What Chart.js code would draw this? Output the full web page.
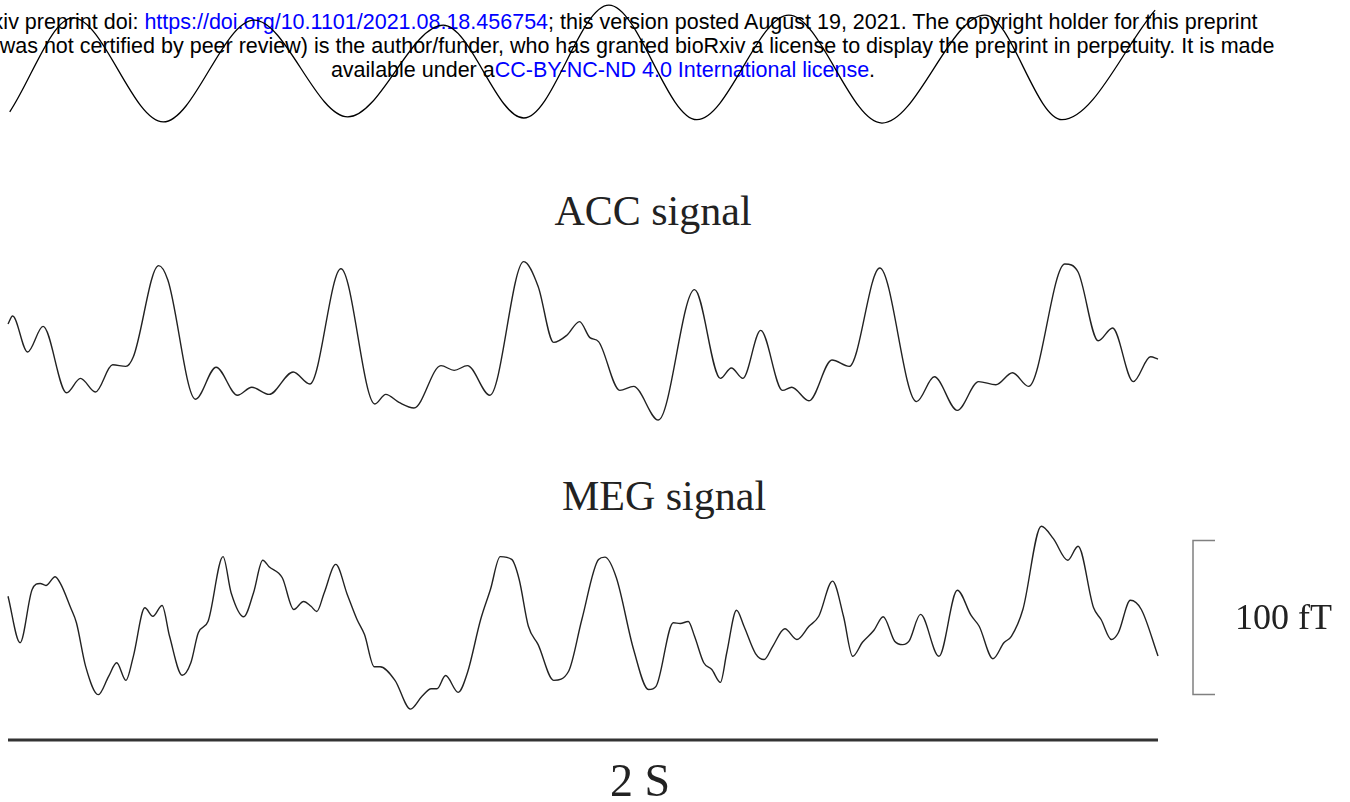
<!DOCTYPE html>
<html lang="en">
  <head>
    <meta charset="UTF-8" />
    <title>ACC / MEG signal</title>
    <script src="https://cdn.jsdelivr.net/npm/chart.js@4"></script>
    <style>
      html, body { margin: 0; padding: 0; background: #fff; }
      body { position: relative; width: 1350px; height: 802px; overflow: hidden; }
      canvas { position: absolute; left: 0; }
      /* preprint header */
      #hdr {
        position: absolute; top: 10px; left: 603px; transform: translateX(-50%);
        font-family: "Liberation Sans", Arial, sans-serif; font-size: 21.5px;
        line-height: 24px; text-align: center; white-space: nowrap; color: #000;
      }
      #hdr a { color: #0000ff; text-decoration: none; }
      .title {
        position: absolute; width: 400px; text-align: center;
        font-family: "Liberation Serif", "Times New Roman", serif; font-size: 42px;
        line-height: 48px; color: #222;
      }
    </style>
  </head>

  <body>
    <div id="hdr">
      bioRxiv preprint doi: <a>https://doi.org/10.1101/2021.08.18.456754</a>; this version posted August 19, 2021. The copyright holder for this preprint<br>
      (which was not certified by peer review) is the author/funder, who has granted bioRxiv a license to display the preprint in perpetuity. It is made<br>
      available under a<a>CC-BY-NC-ND 4.0 International license</a>.
    </div>

    <canvas id="waveChart" width="1350" height="132" style="top:0px"></canvas>

    <div class="title" id="accTitle" style="left:453px; top:187px"></div>
    <canvas id="accChart" width="1350" height="200" style="top:240px"></canvas>

    <div class="title" id="megTitle" style="left:464px; top:472px"></div>
    <canvas id="megChart" width="1350" height="300" style="top:502px"></canvas>
  </body>

  <script>
    // reference wave on top (normalised)
    const waveTime  = [3, 113, 270, 428, 591, 757, 897, 1045, 1198, 1358, 1520, 1699, 1833, 1995];
    const waveValue = [-0.82, 0.86, -1.0, 0.82, -0.91, 0.73, -0.93, 1.09, -0.96, 0.91, -1.02, 0.91, -0.96, 1.0];

    // ACC signal (a.u.)
    const accTime = [0, 8, 34, 61, 102, 126, 152, 182, 205, 218, 262, 278, 326, 362, 399, 424, 454, 496, 525,
      579, 638, 657, 680, 706, 753, 776, 799, 838, 897, 922, 949, 972, 994, 1012, 1027, 1064, 1088, 1131,
      1194, 1239, 1258, 1278, 1309, 1347, 1363, 1393, 1433, 1463, 1516, 1580, 1611, 1651, 1688, 1718,
      1747, 1775, 1838, 1861, 1896, 1921, 1957, 1987, 2000];
    const accValue = [0.20, 0.30, -0.15, 0.17, -0.66, -0.48, -0.65, -0.31, -0.33, -0.21, 0.93, 0.75, -0.74, -0.34,
      -0.69, -0.59, -0.68, -0.40, -0.55, 0.89, -0.80, -0.68, -0.78, -0.85, -0.32, -0.38, -0.32, -0.69, 0.98,
      0.67, -0.03, 0.06, 0.23, 0.03, -0.02, -0.63, -0.58, -1.00, 0.63, -0.48, -0.35, -0.48, 0.12, -0.63,
      -0.59, -0.76, -0.25, -0.33, 0.90, -0.77, -0.46, -0.88, -0.52, -0.56, -0.41, -0.58, 0.95, 0.85, -0.01,
      0.15, -0.52, -0.21, -0.24];

    // MEG signal (fT)
    const megTime = [0, 21, 42, 56, 66, 82, 92, 109, 119, 135, 157, 175, 189, 205, 218, 238, 252, 268, 281, 303,
      318, 331, 348, 374, 388, 410, 427, 443, 454, 477, 497, 514, 527, 537, 550, 570, 590, 607, 620, 637,
      647, 673, 700, 720, 736, 746, 761, 783, 799, 822, 839, 856, 876, 889, 905, 922, 949, 975, 998, 1027,
      1038, 1058, 1088, 1114, 1127, 1157, 1169, 1183, 1194, 1210, 1224, 1239, 1250, 1267, 1280, 1300, 1315,
      1330, 1351, 1372, 1393, 1410, 1434, 1453, 1469, 1486, 1506, 1522, 1542, 1556, 1567, 1587, 1619, 1651,
      1675, 1689, 1713, 1732, 1745, 1765, 1797, 1818, 1843, 1861, 1888, 1901, 1919, 1931, 1952, 1971, 2000];
    const megValue = [13.8, -16.4, 18.2, 22.1, 20.8, 26.5, 21.5, 6.3, -3.4, -31.7, -50.1, -38.2, -29.4, -40.8,
      -25.2, 6.3, 0.8, 7.8, -12.2, -37.5, -29.4, -9.9, -2.4, 39.5, 16.1, 0.5, 16.1, 37.2, 33.0, 25.8, 5.2,
      10.4, 7.3, 3.9, 16.1, 34.5, 15.0, -1.3, -11.1, -32.0, -32.0, -40.8, -59.5, -51.2, -46.3, -46.3, -37.7,
      -48.6, -35.9, -1.3, 18.2, 39.5, 37.7, 24.7, -5.7, -17.6, -40.8, -34.9, -1.3, 37.7, 39.2, 25.8, -20.8,
      -46.8, -44.7, -3.4, -3.9, -2.6, -12.2, -29.4, -33.8, -42.1, -22.9, 4.7, -5.7, -23.4, -27.3, -18.7,
      -7.3, -14.3, -5.7, 0.8, 23.6, 0.8, -25.2, -16.1, -8.3, 0.5, -15.4, -17.6, -15.4, 2.0, -25.2, 17.7,
      1.3, -5.7, -26.8, -16.4, -12.2, 5.2, 59.3, 51.2, 37.2, 46.3, 6.3, -1.3, -14.3, -9.9, 11.2, 5.2, -25.0];

    // text and scale bars
    const accLabel = 'ACC signal';
    const megLabel = 'MEG signal';
    const ampBar = 100;      // fT
    const ampBarLabel = '100 fT';
    const timeBar = 2000;    // ms
    const timeBarLabel = '2 S';

    document.getElementById('accTitle').textContent = accLabel;
    document.getElementById('megTitle').textContent = megLabel;

    // 100 fT bracket and 2 S bar, drawn from the MEG chart scales
    const scaleBars = {
      id: 'scaleBars',
      afterDraw(chart) {
        const ctx = chart.ctx;
        const x = chart.scales.x, y = chart.scales.y;
        const yTop = y.getPixelForValue(ampBar / 2);
        const yBot = y.getPixelForValue(-ampBar / 2);
        const bx = chart.chartArea.right + 35;
        ctx.save();
        ctx.strokeStyle = '#808080';
        ctx.lineWidth = 1.5;
        ctx.beginPath();
        ctx.moveTo(bx + 22, yTop); ctx.lineTo(bx, yTop);
        ctx.lineTo(bx, yBot); ctx.lineTo(bx + 22, yBot);
        ctx.stroke();
        ctx.fillStyle = '#222';
        ctx.font = '36px "Liberation Serif", serif';
        ctx.textBaseline = 'alphabetic';
        ctx.fillText(ampBarLabel, bx + 42, (yTop + yBot) / 2 + 11);

        // time bar
        const tBarY = chart.chartArea.bottom + 7;
        ctx.strokeStyle = '#333';
        ctx.lineWidth = 3;
        ctx.beginPath();
        ctx.moveTo(x.getPixelForValue(0), tBarY);
        ctx.lineTo(x.getPixelForValue(timeBar), tBarY);
        ctx.stroke();
        ctx.font = '46px "Liberation Serif", serif';
        ctx.textAlign = 'center';
        ctx.fillText(timeBarLabel, 640, tBarY + 56);
        ctx.restore();
      }
    };

    function makeChart(id, times, values, yMin, yMax, color, width, padBottom, plugins) {
      return new Chart(document.getElementById(id), {
        type: 'line',
        data: {
          datasets: [{
            data: times.map((t, i) => ({ x: t, y: values[i] })),
            borderColor: color,
            borderWidth: width,
            pointRadius: 0,
            fill: false,
            cubicInterpolationMode: 'monotone',
            clip: false
          }]
        },
        options: {
          responsive: false,
          animation: false,
          events: [],
          layout: { padding: { left: 8, right: 192, top: 0, bottom: padBottom } },
          scales: {
            x: { type: 'linear', min: 0, max: timeBar, display: false },
            y: { min: yMin, max: yMax, display: false }
          },
          plugins: { legend: { display: false }, tooltip: { enabled: false }, title: { display: false } }
        },
        plugins: plugins || []
      });
    }

    makeChart('waveChart', waveTime, waveValue, -1.18, 1.18, '#000', 1.3, 0);
    makeChart('accChart', accTime, accValue, -1.25, 1.25, '#222', 1.4, 0);
    makeChart('megChart', megTime, megValue, -75, 75, '#222', 1.4, 69, [scaleBars]);
  </script>
</html>
